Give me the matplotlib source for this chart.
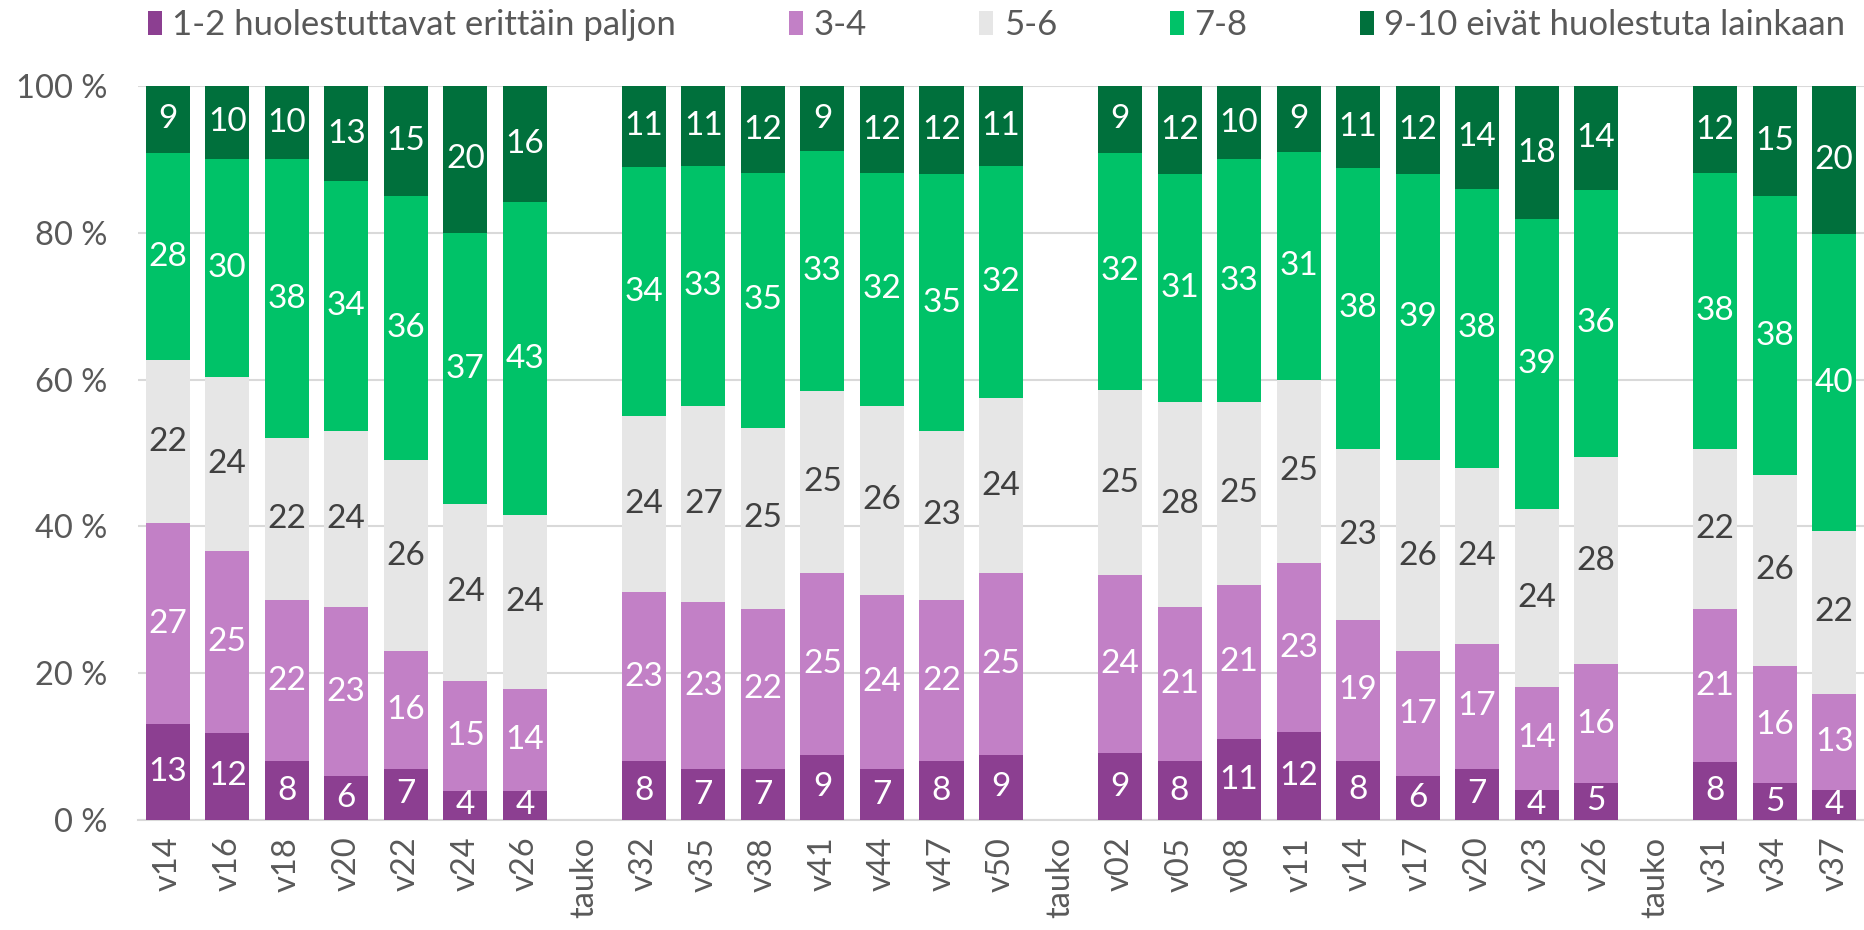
import matplotlib.pyplot as plt
import numpy as np

plt.rcParams['font.family'] = ['Lato', 'DejaVu Sans']

labels = ['v14', 'v16', 'v18', 'v20', 'v22', 'v24', 'v26', 'tauko',
          'v32', 'v35', 'v38', 'v41', 'v44', 'v47', 'v50', 'tauko',
          'v02', 'v05', 'v08', 'v11', 'v14', 'v17', 'v20', 'v23', 'v26', 'tauko',
          'v31', 'v34', 'v37']

# None = tauko (no survey)
s12 = [13, 12, 8, 6, 7, 4, 4, None, 8, 7, 7, 9, 7, 8, 9, None,
       9, 8, 11, 12, 8, 6, 7, 4, 5, None, 8, 5, 4]
s34 = [27, 25, 22, 23, 16, 15, 14, None, 23, 23, 22, 25, 24, 22, 25, None,
       24, 21, 21, 23, 19, 17, 17, 14, 16, None, 21, 16, 13]
s56 = [22, 24, 22, 24, 26, 24, 24, None, 24, 27, 25, 25, 26, 23, 24, None,
       25, 28, 25, 25, 23, 26, 24, 24, 28, None, 22, 26, 22]
s78 = [28, 30, 38, 34, 36, 37, 43, None, 34, 33, 35, 33, 32, 35, 32, None,
       32, 31, 33, 31, 38, 39, 38, 39, 36, None, 38, 38, 40]
s910 = [9, 10, 10, 13, 15, 20, 16, None, 11, 11, 12, 9, 12, 12, 11, None,
        9, 12, 10, 9, 11, 12, 14, 18, 14, None, 12, 15, 20]

series = [s12, s34, s56, s78, s910]
names = ['1-2 huolestuttavat erittäin paljon', '3-4', '5-6', '7-8',
         '9-10 eivät huolestuta lainkaan']
colors = ['#8C3F91', '#C280C6', '#E6E6E6', '#00C268', '#00703C']
txtcol = ['white', 'white', '#404040', 'white', 'white']

x = np.arange(len(labels))
idx = [i for i in x if s12[i] is not None]
vals = np.array([[s[i] for i in idx] for s in series], dtype=float)
pct = vals / vals.sum(axis=0) * 100  # 100 % stacked

fig = plt.figure(figsize=(18.65, 9.3), dpi=100)
ax = fig.add_axes([138 / 1865, 110 / 930, 1726 / 1865, 734 / 930])

bottom = np.zeros(len(idx))
for k in range(5):
    ax.bar(idx, pct[k], 0.74, bottom=bottom, color=colors[k], label=names[k], zorder=3)
    for j, i in enumerate(idx):
        ax.text(i, bottom[j] + pct[k][j] / 2, '%d' % vals[k][j], ha='center', va='center',
                color=txtcol[k], fontsize=24, zorder=4)
    bottom += pct[k]

ax.set_xlim(-0.5, len(labels) - 0.5)
ax.set_ylim(0, 100)
ax.set_yticks([0, 20, 40, 60, 80, 100])
ax.set_yticklabels(['%d %%' % v for v in [0, 20, 40, 60, 80, 100]])
ax.set_xticks(x)
ax.set_xticklabels(labels, rotation=90)
ax.tick_params(axis='both', length=0, labelsize=23.5, labelcolor='#595959')
ax.tick_params(axis='y', pad=22)
ax.tick_params(axis='x', pad=12)
ax.grid(axis='y', color='#D9D9D9', linewidth=1.5, zorder=0)
for sp in ['top', 'right', 'left']:
    ax.spines[sp].set_visible(False)
ax.spines['bottom'].set_color('#D9D9D9')
ax.spines['bottom'].set_linewidth(1.5)

fig.legend(loc='upper left', bbox_to_anchor=(148 / 1865, 0.99), ncol=5, frameon=False,
           fontsize=25, labelcolor='#595959', handlelength=0.4, handleheight=0.7,
           handletextpad=0.3, columnspacing=3.25, borderpad=0, borderaxespad=0)

fig.savefig('out.png', dpi=100)
